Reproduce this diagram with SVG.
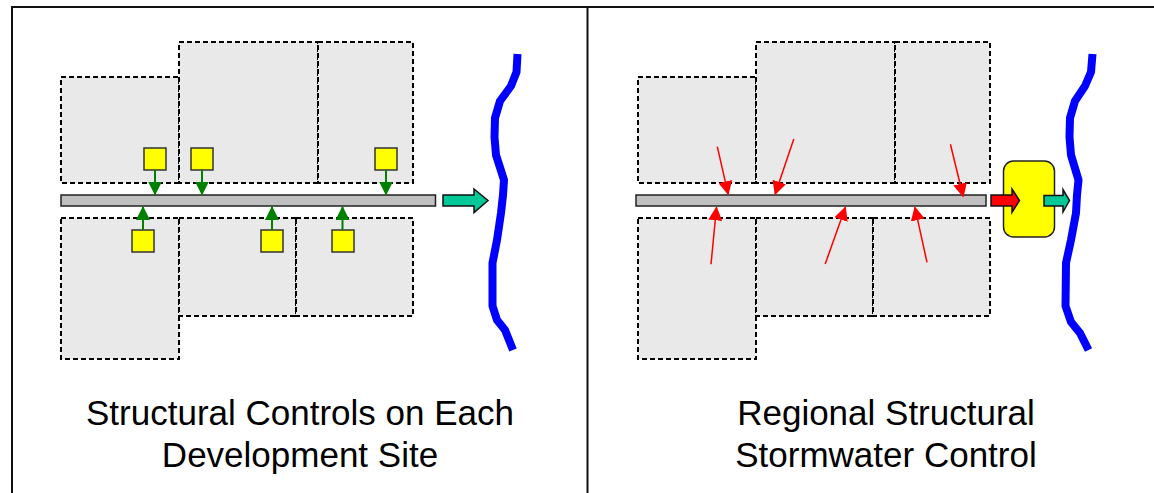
<svg xmlns="http://www.w3.org/2000/svg" width="1154" height="493" viewBox="0 0 1154 493">
  <style>
    .frame { fill: none; stroke: #111; stroke-width: 2; }
    .lot { fill: #e9e9e9; stroke: #000; stroke-width: 2; stroke-dasharray: 5 3; }
    .bar { fill: #c0c0c0; stroke: #222; stroke-width: 1.5; }
    .box { fill: #ffff00; stroke: #333; stroke-width: 1.5; }
    .river { fill: none; stroke: #0000ff; stroke-width: 8; stroke-linejoin: round; }
    .garrow { stroke: #008000; stroke-width: 2; fill: none; marker-end: url(#gHead); }
    .rarrow { stroke: #ff0000; stroke-width: 1.5; fill: none; marker-end: url(#rHead); }
    .block { stroke: #111; stroke-width: 1.5; stroke-linejoin: miter; }
    .label { font-family: "Liberation Sans", Arial, sans-serif; font-size: 35px; fill: #000; text-anchor: middle; }
  </style>
  <defs>
    <marker id="gHead" viewBox="0 0 14 14" refX="13" refY="7" markerWidth="14" markerHeight="14" markerUnits="userSpaceOnUse" orient="auto">
      <path d="M0,0 L14,7 L0,14 z" fill="#008000"/>
    </marker>
    <marker id="rHead" viewBox="0 0 14 14" refX="13" refY="7" markerWidth="14" markerHeight="14" markerUnits="userSpaceOnUse" orient="auto">
      <path d="M0,0 L14,7 L0,14 z" fill="#ff0000"/>
    </marker>
  </defs>

  <rect x="0" y="0" width="1154" height="493" fill="#fff"/>
  <g id="frame">
    <path class="frame" d="M12,493 L12,7 L1154,7"/>
    <path class="frame" d="M587.5,7 L587.5,493"/>
  </g>

  <!-- Left panel -->
  <g id="left-lots">
    <rect class="lot" x="61" y="77" width="118" height="106"/>
    <rect class="lot" x="179" y="42" width="139" height="141"/>
    <rect class="lot" x="318" y="42" width="95" height="141"/>
    <rect class="lot" x="61" y="218" width="118" height="141"/>
    <rect class="lot" x="179" y="218" width="117" height="98"/>
    <rect class="lot" x="296" y="218" width="117" height="98"/>
  </g>
  <g id="left-pipe">
    <rect class="bar" x="61" y="195" width="374.5" height="11"/>
  </g>
  <g id="left-controls">
    <rect class="box" x="144" y="148" width="22" height="22"/>
    <rect class="box" x="191" y="148" width="22" height="22"/>
    <rect class="box" x="375" y="148" width="22" height="22"/>
    <rect class="box" x="132" y="230" width="22" height="22"/>
    <rect class="box" x="261" y="230" width="22" height="22"/>
    <rect class="box" x="332" y="230" width="22" height="22"/>
  </g>
  <g id="left-river">
    <polyline class="river" points="517.5,54 516.5,72 511,86 500,101 495,118 494.5,137 496,155 504,180 503,195 501,213 497,240 492.5,263 492.5,306 497,320 505,330 513,350"/>
  </g>

  <!-- Right panel -->
  <g id="right-lots">
    <rect class="lot" x="638" y="77" width="118" height="106"/>
    <rect class="lot" x="756" y="42" width="139" height="141"/>
    <rect class="lot" x="895" y="42" width="95" height="141"/>
    <rect class="lot" x="638" y="218" width="118" height="141"/>
    <rect class="lot" x="756" y="218" width="117" height="98"/>
    <rect class="lot" x="873" y="218" width="117" height="98"/>
  </g>
  <g id="right-pipe">
    <rect class="bar" x="636" y="195" width="350" height="11"/>
  </g>
  <g id="regional-control">
    <rect x="1003.5" y="161" width="51" height="76" rx="10" ry="10" fill="#ffff00" stroke="#222" stroke-width="1.5"/>
  </g>
  <g id="right-river">
    <polyline class="river" points="1092.5,54 1091,72 1085,86 1075,101 1070,118 1069.5,137 1071,155 1078.5,180 1077,195 1076,213 1071,240 1066,263 1065.5,306 1071,322 1080,333 1088.5,350"/>
  </g>

  <g id="connectors">
    <line class="garrow" x1="155" y1="170" x2="155" y2="194.5"/>
    <line class="garrow" x1="202" y1="170" x2="202" y2="194.5"/>
    <line class="garrow" x1="386" y1="170" x2="386" y2="194.5"/>
    <line class="garrow" x1="143" y1="230" x2="143" y2="207"/>
    <line class="garrow" x1="272" y1="230" x2="272" y2="207"/>
    <line class="garrow" x1="342.5" y1="230" x2="342.5" y2="207"/>
    <polygon class="block" fill="#00c896" points="443,195 474,195 474,189 488,200.5 474,212.5 474,206 443,206"/>

    <line class="rarrow" x1="717.3" y1="146.7" x2="728.2" y2="194.3"/>
    <line class="rarrow" x1="793.8" y1="139" x2="775.1" y2="194.3"/>
    <line class="rarrow" x1="950.4" y1="144.3" x2="963.2" y2="196.5"/>
    <line class="rarrow" x1="711" y1="264.3" x2="716.5" y2="207.3"/>
    <line class="rarrow" x1="825.2" y1="264" x2="845.4" y2="207.3"/>
    <line class="rarrow" x1="927" y1="262.3" x2="914.9" y2="207.3"/>
    <polygon class="block" fill="#ff0000" points="991,195 1012,195 1012,189 1019.5,200.5 1012,212.5 1012,206 991,206"/>
    <polygon class="block" fill="#00c896" points="1044,195.5 1063,195.5 1063,189.5 1069.5,200.5 1063,212 1063,206 1044,206"/>
  </g>

  <g id="labels">
    <text class="label" x="300" y="425">Structural Controls on Each</text>
    <text class="label" x="300" y="467">Development Site</text>
    <text class="label" x="886" y="425">Regional Structural</text>
    <text class="label" x="886" y="467">Stormwater Control</text>
  </g>
</svg>
